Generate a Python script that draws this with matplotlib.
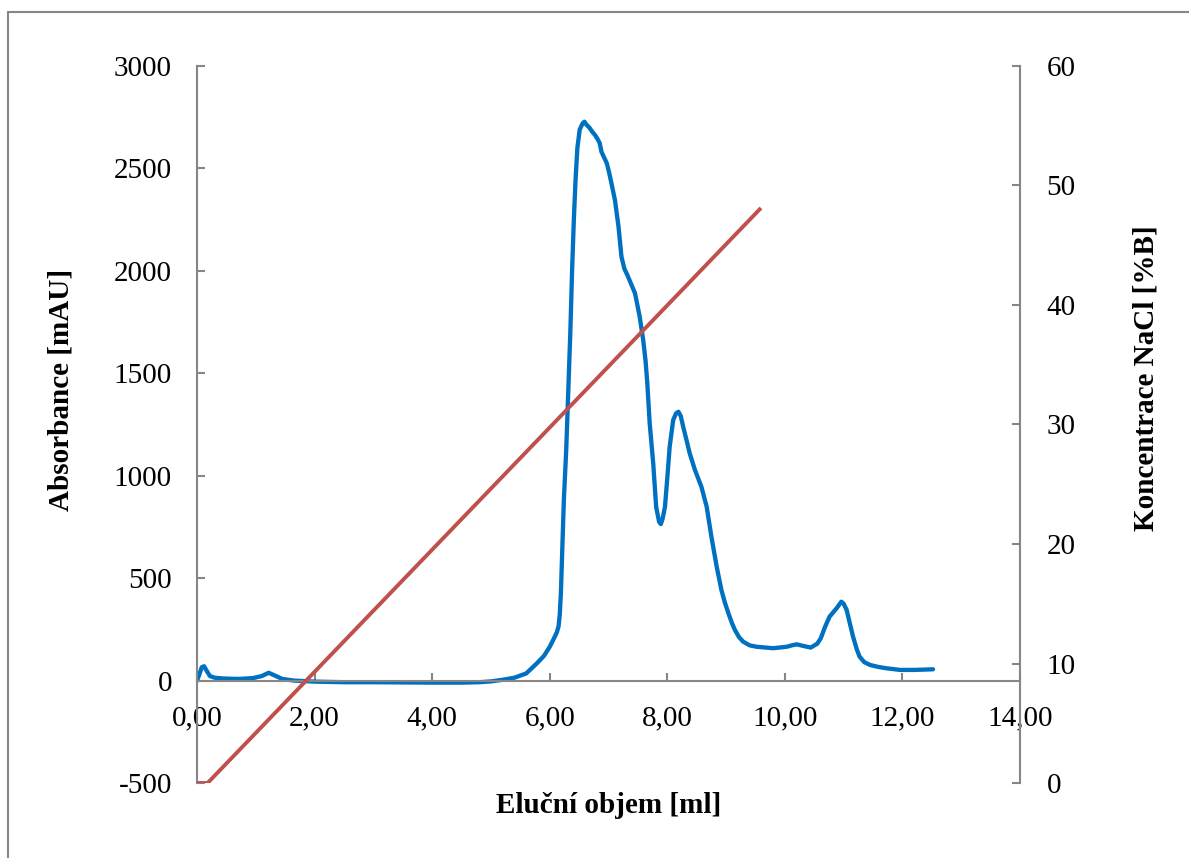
import matplotlib
matplotlib.use('Agg')
import matplotlib.pyplot as plt
from matplotlib.patches import Rectangle

# Elution volume [ml] and absorbance [mAU] of the chromatogram
volume = [0.00, 0.04, 0.08, 0.12, 0.17, 0.22, 0.30, 0.45, 0.70, 0.95,
          1.10, 1.22, 1.32, 1.45, 1.65, 2.00, 2.50, 3.00, 3.50, 4.00,
          4.50, 4.80, 5.00, 5.20, 5.40, 5.60, 5.78, 5.90, 6.00, 6.07,
          6.12, 6.15, 6.17, 6.19, 6.21, 6.24, 6.28, 6.31, 6.35, 6.38,
          6.41, 6.44, 6.47, 6.51, 6.56, 6.59, 6.62, 6.68, 6.72, 6.77,
          6.82, 6.85, 6.88, 6.93, 6.97, 7.01, 7.05, 7.11, 7.17, 7.22,
          7.27, 7.32, 7.40, 7.45, 7.50, 7.53, 7.59, 7.63, 7.66, 7.70,
          7.76, 7.81, 7.86, 7.89, 7.92, 7.96, 8.00, 8.04, 8.10, 8.15,
          8.19, 8.23, 8.27, 8.33, 8.38, 8.47, 8.58, 8.67, 8.75, 8.84,
          8.92, 8.98, 9.04, 9.10, 9.15, 9.22, 9.29, 9.40, 9.52, 9.80,
          10.03, 10.12, 10.20, 10.30, 10.44, 10.55, 10.61, 10.68, 10.76, 10.88,
          10.96, 11.00, 11.05, 11.10, 11.16, 11.22, 11.27, 11.35, 11.45, 11.60,
          11.73, 11.96, 12.20, 12.52]
absorbance = [0, 30, 65, 70, 45, 22, 14, 10, 8, 12,
              22, 38, 25, 8, 0, -5, -8, -8, -9, -10,
              -10, -8, -4, 4, 14, 35, 84, 120, 165, 205,
              235, 265, 320, 430, 610, 881, 1125, 1370, 1700, 2000,
              2250, 2450, 2600, 2690, 2720, 2728, 2715, 2697, 2680, 2663,
              2640, 2623, 2581, 2550, 2526, 2480, 2427, 2344, 2215, 2069,
              2010, 1980, 1925, 1891, 1820, 1776, 1662, 1560, 1450, 1256,
              1061, 848, 775, 764, 790, 848, 990, 1141, 1272, 1305,
              1312, 1290, 1239, 1170, 1110, 1028, 946, 848, 702, 556,
              442, 380, 328, 280, 247, 212, 190, 172, 165, 158,
              165, 172, 177, 170, 161, 180, 206, 260, 312, 353,
              385, 375, 345, 285, 214, 155, 117, 90, 76, 66,
              60, 52, 52, 55]

# NaCl gradient [%B]
grad_volume = [0.00, 0.18, 9.57]
grad_conc = [0, 0, 48]

x_ticks = [0, 2, 4, 6, 8, 10, 12, 14]
x_tick_labels = ['0,00', '2,00', '4,00', '6,00', '8,00', '10,00', '12,00', '14,00']
y_ticks = [-500, 0, 500, 1000, 1500, 2000, 2500, 3000]
y_tick_labels = ['-500', '0', '500', '1000', '1500', '2000', '2500', '3000']
y2_ticks = [0, 10, 20, 30, 40, 50, 60]

plt.rcParams['font.family'] = ['Liberation Serif', 'DejaVu Serif']
axis_grey = '#868686'

fig = plt.figure(figsize=(11.89, 8.58), dpi=100)
ax = fig.add_axes([0.1657, 0.0874, 0.6922, 0.8357])
ax2 = ax.twinx()

ax.plot(volume, absorbance, color='#0070C0', lw=3.1, solid_capstyle='round',
        solid_joinstyle='round')
ax2.plot(grad_volume, grad_conc, color='#C0504D', lw=2.8)

ax.set_xlim(0, 14)
ax.set_ylim(-500, 3000)
ax2.set_ylim(0, 60)

ax.set_xticks(x_ticks)
ax.set_xticklabels(x_tick_labels)
ax.set_yticks(y_ticks)
ax.set_yticklabels(y_tick_labels)
ax2.set_yticks(y2_ticks)

for a in (ax, ax2):
    a.spines['top'].set_visible(False)
    for s in a.spines.values():
        s.set_color(axis_grey)
        s.set_linewidth(1.5)
ax.spines['right'].set_visible(False)
ax2.spines['left'].set_visible(False)
ax2.spines['bottom'].set_visible(False)
ax.spines['bottom'].set_position(('data', 0))

ax.tick_params(axis='both', direction='in', length=5.5, width=1.5, color=axis_grey,
               labelsize=21, pad=18)
ax2.tick_params(axis='y', direction='in', length=5.5, width=1.5, color=axis_grey,
                labelsize=21, pad=19)

ax.set_xlabel('Eluční objem [ml]', fontsize=21, fontweight='bold')
ax.set_ylabel('Absorbance [mAU]', fontsize=21, fontweight='bold')
ax2.set_ylabel('Koncentrace NaCl [%B]', fontsize=21, fontweight='bold')
ax.xaxis.set_label_coords(0.5, -0.031)
ax.yaxis.set_label_coords(-0.165, 0.548)
ax2.yaxis.set_label_coords(1.153, 0.565)
for lab in (ax.xaxis.label, ax.yaxis.label, ax2.yaxis.label):
    lab.set_va('center')
    lab.set_ha('center')

# chart area border
fig.add_artist(Rectangle((0.0067, -0.1), 1.5, 1.086, transform=fig.transFigure,
                         fill=False, ec=axis_grey, lw=1.5))

fig.savefig('out.png', dpi=100)
